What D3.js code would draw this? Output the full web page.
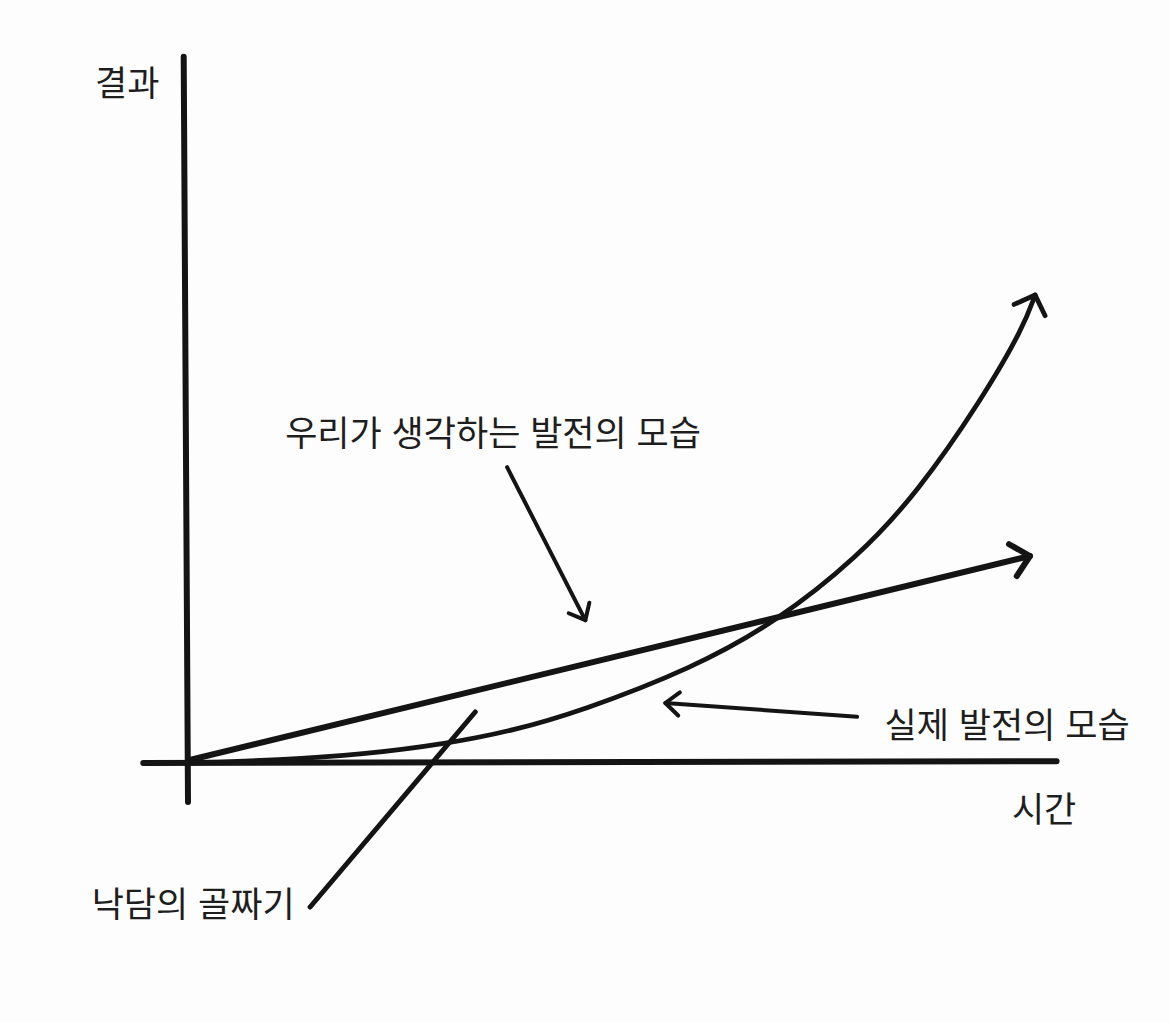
<!doctype html>
<html lang="ko">
<head>
  <meta charset="utf-8">
  <title>발전의 모습</title>
</head>
<body style="overflow: hidden; margin: 0; background: #fff;">
  <script src="https://cdnjs.cloudflare.com/ajax/libs/d3/7.8.5/d3.min.js"></script>

  <script type="text/javascript">

    // time (x) / result (y) in chart units
    const axisX = [[-0.52, 0], [10.1, 0.03]];
    const axisY = [[-0.05, 11.77], [0, -0.65]];

    // what we think progress looks like: straight line
    const expected = [[0.02, 0.05], [9.79, 3.45]];

    // what progress really looks like: slow start then a steep rise
    const actual = [
      [0, 0], [1.07, 0.05], [2.03, 0.14], [3.01, 0.32], [3.78, 0.54],
      [4.56, 0.86], [5.87, 1.58], [6.85, 2.36], [7.78, 3.42], [8.48, 4.5],
      [9.24, 6.08], [9.71, 7.25], [9.85, 7.8]
    ];

    // pointer lines: [from, to, arrowhead?]
    const pointers = [
      { from: [3.71, 4.93], to: [4.62, 2.38], head: true },
      { from: [7.78, 0.77], to: [5.55, 1.0], head: true },
      { from: [1.42, -2.4], to: [3.34, 0.85], head: false }
    ];

    const labels = [
      { text: "결과", at: [-1.08, 11.38] },
      { text: "우리가 생각하는 발전의 모습", at: [1.13, 5.55] },
      { text: "실제 발전의 모습", at: [8.1, 0.68] },
      { text: "시간", at: [9.58, -0.72] },
      { text: "낙담의 골짜기", at: [-1.12, -2.3] }
    ];

    var config = {
      "width": 1170,
      "height": 1023,
      "originX": 188,
      "originY": 763,
      "unitX": 86,
      "unitY": 60
    }

    let svg = d3.select("body").append("svg")
      .attr("width", config.width)
      .attr("height", config.height)
      .style("display", "block");

    svg.append("rect")
      .attr("width", config.width)
      .attr("height", config.height)
      .attr("fill", "#fdfdfd");

    let xScale = d3.scaleLinear()
      .domain([0, 10])
      .range([config.originX, config.originX + 10 * config.unitX]);
    let yScale = d3.scaleLinear()
      .domain([0, 10])
      .range([config.originY, config.originY - 10 * config.unitY]);

    let line = d3.line()
      .x(d => xScale(d[0]))
      .y(d => yScale(d[1]));

    let curve = d3.line()
      .x(d => xScale(d[0]))
      .y(d => yScale(d[1]))
      .curve(d3.curveBasis);

    const ink = "#141414";

    function stroke(sel, w) {
      return sel.attr("fill", "none")
        .attr("stroke", ink)
        .attr("stroke-width", w)
        .attr("stroke-linecap", "round")
        .attr("stroke-linejoin", "round");
    }

    // open chevron arrowhead at p1, pointing away from p0
    function arrowHead(p0, p1, len, spread, w) {
      let x0 = xScale(p0[0]), y0 = yScale(p0[1]);
      let x1 = xScale(p1[0]), y1 = yScale(p1[1]);
      let a = Math.atan2(y1 - y0, x1 - x0);
      let pts = [
        [x1 + len * Math.cos(a + Math.PI - spread), y1 + len * Math.sin(a + Math.PI - spread)],
        [x1, y1],
        [x1 + len * Math.cos(a + Math.PI + spread), y1 + len * Math.sin(a + Math.PI + spread)]
      ];
      stroke(svg.append("path"), w)
        .attr("d", d3.line()(pts));
    }

    // axes
    stroke(svg.append("path"), 6).attr("d", line(axisY));
    stroke(svg.append("path"), 6).attr("d", line(axisX));

    // expected (straight)
    stroke(svg.append("path"), 6).attr("d", line(expected));
    arrowHead(expected[0], expected[1], 24, 0.75, 6);

    // actual (curve)
    stroke(svg.append("path"), 4.8).attr("d", curve(actual));
    arrowHead(actual[actual.length - 2], actual[actual.length - 1], 23, 0.8, 4.8);

    // pointers
    pointers.forEach(p => {
      stroke(svg.append("path"), p.head ? 4 : 5).attr("d", line([p.from, p.to]));
      if (p.head) arrowHead(p.from, p.to, 18, 0.7, 4);
    });

    // labels
    svg.selectAll("text.label")
      .data(labels)
      .enter().append("text")
      .attr("class", "label")
      .attr("x", d => xScale(d.at[0]))
      .attr("y", d => yScale(d.at[1]))
      .attr("dominant-baseline", "central")
      .attr("font-family", "'Noto Sans CJK KR', 'Noto Sans', sans-serif")
      .attr("font-size", 35)
      .attr("fill", "#1e1e1e")
      .text(d => d.text);

  </script>
</body>
</html>
